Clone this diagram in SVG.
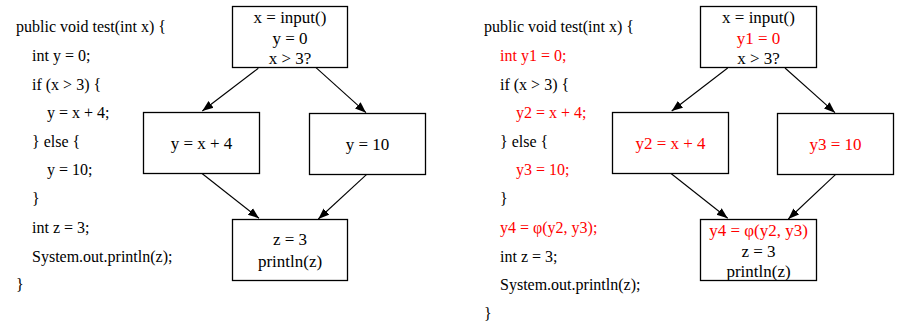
<svg xmlns="http://www.w3.org/2000/svg" width="897" height="330" viewBox="0 0 897 330">
<defs>
<marker id="ah" viewBox="0 0 11 10" refX="11" refY="5" markerWidth="11" markerHeight="10" markerUnits="userSpaceOnUse" orient="auto">
<path d="M0,0.8 L11,5 L0,9.2 Z" fill="#000"/>
</marker>
<style>
.code{font-family:"Liberation Serif","Times New Roman",serif;font-size:16px;fill:#000}
.lbl{font-family:"Liberation Serif","Times New Roman",serif;font-size:17px;fill:#000;text-anchor:middle}
.red{fill:#ff0000}
.box{fill:#fff;stroke:#000;stroke-width:1.3}
.edge{fill:none;stroke:#000;stroke-width:1.1;marker-end:url(#ah)}
</style>
</defs>
<rect width="897" height="330" fill="#fff"/>
<g id="code-left">
<text class="code" x="16" y="32">public void test(int x) {</text>
<text class="code" x="32" y="61">int y = 0;</text>
<text class="code" x="32" y="90">if (x &gt; 3) {</text>
<text class="code" x="47" y="118">y = x + 4;</text>
<text class="code" x="32" y="147">} else {</text>
<text class="code" x="47" y="175">y = 10;</text>
<text class="code" x="32" y="204">}</text>
<text class="code" x="32" y="233">int z = 3;</text>
<text class="code" x="32" y="262">System.out.println(z);</text>
<text class="code" x="16" y="290">}</text>
</g>
<g id="code-right">
<text class="code" x="484" y="32">public void test(int x) {</text>
<text class="code red" x="500" y="61">int y1 = 0;</text>
<text class="code" x="500" y="90">if (x &gt; 3) {</text>
<text class="code red" x="516" y="118">y2 = x + 4;</text>
<text class="code" x="500" y="147">} else {</text>
<text class="code red" x="516" y="175">y3 = 10;</text>
<text class="code" x="500" y="204">}</text>
<text class="code red" x="500" y="233">y4 = φ(y2, y3);</text>
<text class="code" x="500" y="262">int z = 3;</text>
<text class="code" x="500" y="290">System.out.println(z);</text>
<text class="code" x="484" y="319">}</text>
</g>
<g id="connectors">
<line class="edge" x1="258.3" y1="68.3" x2="202.3" y2="111"/>
<line class="edge" x1="316" y1="67.7" x2="366" y2="112.7"/>
<line class="edge" x1="201.7" y1="173.3" x2="259" y2="218.3"/>
<line class="edge" x1="366.7" y1="174.3" x2="318.3" y2="219"/>
<line class="edge" x1="727.7" y1="68" x2="671.7" y2="111"/>
<line class="edge" x1="785" y1="68" x2="835" y2="112.7"/>
<line class="edge" x1="670.7" y1="173.3" x2="727.7" y2="218.3"/>
<line class="edge" x1="835.7" y1="174.3" x2="788.3" y2="219"/>
</g>
<g id="L-entry">
<rect class="box" x="232.5" y="6.5" width="115" height="61"/>
<text class="lbl" x="290" y="22.5">x = input()</text>
<text class="lbl" x="290" y="43.5">y = 0</text>
<text class="lbl" x="290" y="64">x &gt; 3?</text>
</g>
<g id="L-then">
<rect class="box" x="143.5" y="112.5" width="116" height="61"/>
<text class="lbl" x="201.5" y="149">y = x + 4</text>
</g>
<g id="L-else">
<rect class="box" x="309.5" y="113.5" width="116" height="61"/>
<text class="lbl" x="367.5" y="150">y = 10</text>
</g>
<g id="L-exit">
<rect class="box" x="232.5" y="219.5" width="115" height="61"/>
<text class="lbl" x="290" y="245">z = 3</text>
<text class="lbl" x="290" y="267">println(z)</text>
</g>
<g id="R-entry">
<rect class="box" x="700.5" y="6.5" width="116" height="61"/>
<text class="lbl" x="758.5" y="22.5">x = input()</text>
<text class="lbl red" x="758.5" y="43.5">y1 = 0</text>
<text class="lbl" x="758.5" y="64">x &gt; 3?</text>
</g>
<g id="R-then">
<rect class="box" x="612.5" y="112.5" width="116" height="61"/>
<text class="lbl red" x="670.5" y="149">y2 = x + 4</text>
</g>
<g id="R-else">
<rect class="box" x="777.5" y="113.5" width="116" height="61"/>
<text class="lbl red" x="835.5" y="150">y3 = 10</text>
</g>
<g id="R-exit">
<rect class="box" x="700.5" y="219.5" width="116" height="61"/>
<text class="lbl red" x="758.5" y="236">y4 = φ(y2, y3)</text>
<text class="lbl" x="758.5" y="256.5">z = 3</text>
<text class="lbl" x="758.5" y="276.5">println(z)</text>
</g>
</svg>
